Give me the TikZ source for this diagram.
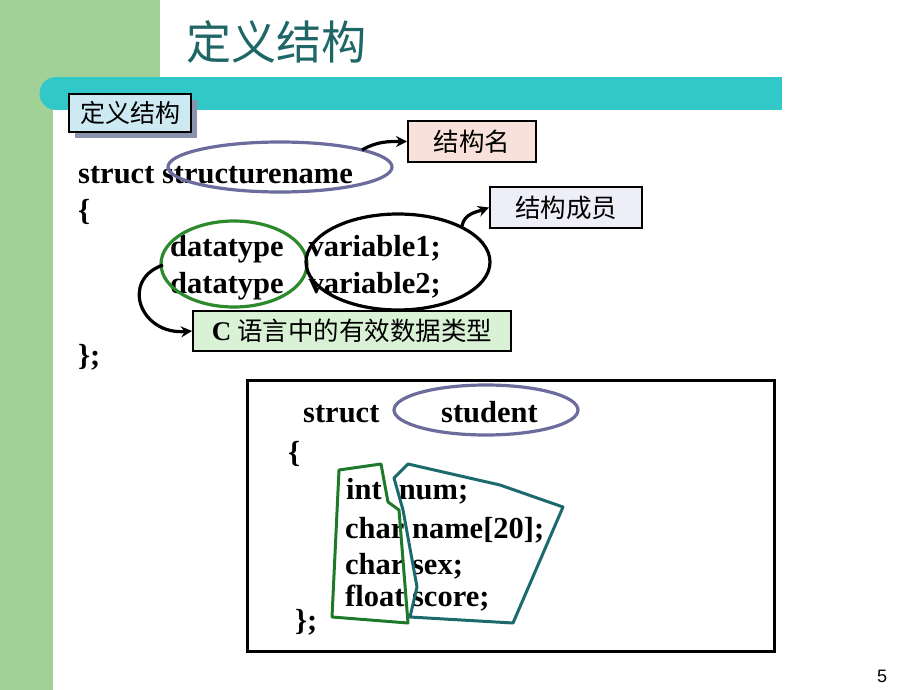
\documentclass[tikz,border=0pt]{standalone}
\usepackage{fontspec}
\setmainfont{Liberation Serif}
\newfontfamily\cjk{Noto Sans CJK SC}
\newfontfamily\sansf{Liberation Sans}
\usetikzlibrary{arrows.meta}
\definecolor{sage}{HTML}{A2D198}
\definecolor{barteal}{HTML}{33C8C8}
\definecolor{titleteal}{HTML}{1F6666}
\definecolor{lblblue}{HTML}{CDE9F2}
\definecolor{shadowc}{HTML}{8A93AE}
\definecolor{pinkbox}{HTML}{F8E1DA}
\definecolor{lavbox}{HTML}{EEEEF8}
\definecolor{greenbox}{HTML}{D9F2D6}
\definecolor{purpring}{HTML}{6B6B9C}
\definecolor{greenring}{HTML}{2C8A2C}
\definecolor{polygreen}{HTML}{1E7A2A}
\definecolor{polyteal}{HTML}{1C6A6E}
\tikzset{
  code/.style={font=\fontsize{30.5}{30.5}\selectfont\bfseries, anchor=base west, inner sep=0pt},
  cbox/.style={draw=black, line width=2pt, font=\cjk\fontsize{25.5}{25.5}\selectfont, inner sep=0pt, anchor=north west},
  ring/.style={line width=3.2pt},
  callout/.style={line width=3.2pt, -{Stealth[length=11pt,width=11pt]}},
}
\begin{document}
\begin{tikzpicture}[x=1pt,y=-1pt]
\useasboundingbox (0,0) rectangle (920,690);
% background
\fill[sage] (0,0) rectangle (160,77);
\fill[sage] (0,0) rectangle (53,690);
\fill[barteal] (56,77) rectangle (782,110);
\fill[barteal] (56,93.5) circle (16.5);
% title
\node[font=\cjk\fontsize{46}{46}\selectfont, text=titleteal, anchor=west, inner sep=0pt, xscale=0.98] (title) at (186,42) {定义结构};
% label box
\fill[shadowc] (75,100) rectangle (197,138);
\node[cbox, fill=lblblue, minimum width=122pt, minimum height=38pt, font=\cjk\fontsize{25}{25}\selectfont] (lbl) at (68,93) {定义结构};
% code
\node[code] (l1) at (78,183) {struct structurename};
\node[code] (l2) at (78,220) {\{};
\node[code] (l3) at (170,256) {datatype\hspace{25pt}variable1;};
\node[code] (l4) at (170,293) {datatype\hspace{25pt}variable2;};
\node[code] (l5) at (78,365) {\};};
% rings
\draw[ring, purpring] (280,167) ellipse (112 and 25);
\draw[ring, greenring] (234,264) ellipse (73 and 43);
\draw[ring, black] (398,262) ellipse (92 and 48);
\coordinate (r1) at (362,150);
\coordinate (r2) at (462,226);
\coordinate (r3) at (163,265);
% boxes
\node[cbox, fill=pinkbox, minimum width=128pt, minimum height=41pt] (bn) at (407,120) {结构名};
\node[cbox, fill=lavbox, minimum width=152pt, minimum height=41pt] (bm) at (489,186) {结构成员};
\node[cbox, fill=greenbox, minimum width=318pt, minimum height=40pt] (bc) at (192,310) {{\rmfamily\bfseries\fontsize{27}{27}\selectfont C} 语言中的有效数据类型};
% callouts
\draw[callout] (r1) to[out=30, in=180] (bn.west);
\draw[callout] (r2) to[out=80, in=200] (bm.west);
\draw[callout] (r3) .. controls (120,280) and (140,335) .. (bc.west);
% lower example box
\node[draw=black, line width=2.6pt, minimum width=527pt, minimum height=271pt, anchor=north west, inner sep=0pt] (ex) at (246,379) {};
\node[code] (s1) at (303,422) {struct};
\node[code] (s2) at (441,422) {student};
\draw[ring, purpring] (486,410) ellipse (92 and 25);
\node[code] (s3) at (288,462) {\{};
\node[code] (s4) at (346,499) {int\hspace{17pt}num;};
\node[code] (s5) at (345,538) {char name[20];};
\node[code] (s6) at (345,574) {char sex;};
\node[code] (s7) at (345,606) {float score;};
\node[code] (s8) at (295,630) {\};};
\draw[line width=3pt, polygreen, line join=round] (339,470) -- (381,464) -- (388,502) -- (399,510) -- (408,623) -- (332,617) -- cycle;
\draw[line width=3pt, polyteal, line join=round] (408,464) -- (500,485) -- (563,507) -- (513,623) -- (410,617) -- (417,587) -- (403,510) -- (394,478) -- cycle;
% page number
\node[font=\sansf\fontsize{18}{18}\selectfont, anchor=base] (pg) at (882,682) {5};
\end{tikzpicture}
\end{document}
